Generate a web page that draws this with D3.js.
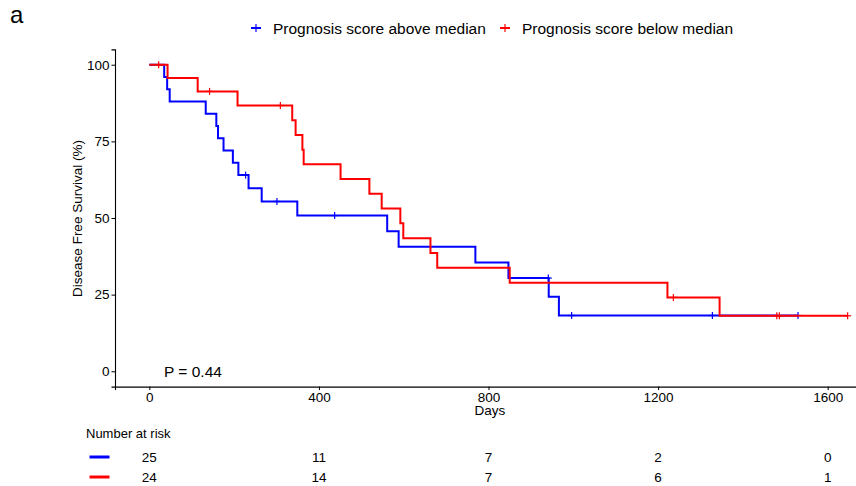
<!DOCTYPE html>
<html>
<head>
<meta charset="utf-8">
<script src="https://d3js.org/d3.v7.min.js"></script>
<style>
  body { margin: 0; background: white; }
  svg text { font-family: "Liberation Sans", Arial, Helvetica, sans-serif; fill: black; }
  .axis path, .axis line { stroke: black; }
</style>
</head>
<body>
<script>

// survival steps: [day, survival % after the step]
var aboveSteps = [[0,100],[35,96],[42,92],[48,88],[133,84],[158,80],[162,76],[175,72],[197,68],[210,64],
                  [234,59.7],[265,55.4],[349,50.8],[561,45.7],[588,40.6],[769,35.5],[847,30.4],[942,24.3],[966,18.2]]
var aboveEnd = 1530
var aboveCensor = [[227,64],[301,55.4],[437,50.8],[941,30.4],[996,18.2],[1328,18.2],[1530,18.2]]

var belowSteps = [[0,100],[43,95.7],[114,91.3],[208,86.7],[337,81.9],[345,77.1],[361,72.3],[364,67.5],[451,62.7],
                  [519,57.9],[548,53.1],[592,48.3],[599,43.4],[663,38.6],[679,33.8],[850,28.9],[1222,24.1],[1345,18.1]]
var belowEnd = 1647
var belowCensor = [[22,100],[142,91.3],[309,86.7],[1236,24.1],[1480,18.1],[1486,18.1],[1647,18.1]]

var xTicks = [0,400,800,1200,1600]
var yTicks = [0,25,50,75,100]

var riskTimes = [0,400,800,1200,1600]
var riskAbove = [25,11,7,2,0]
var riskBelow = [24,14,7,6,1]

var seriesNames = ["Prognosis score above median","Prognosis score below median"]
var seriesColors = ["#0000ff","#ff0000"]

var width = 856, height = 486

var svg = d3.select("body").append("svg")
    .attr("width", width)
    .attr("height", height)

var x = d3.scaleLinear().domain([-81, 1700]).range([115, 870.1])
var y = d3.scaleLinear().domain([-5, 105]).range([386.6, 49.4])

// axes
var xAxis = svg.append("g")
    .attr("class", "axis")
    .attr("transform", "translate(0," + y(-5) + ")")
    .call(d3.axisBottom(x).tickValues(xTicks).tickFormat(d3.format("d"))
          .tickSizeOuter(0).tickSize(3.5).tickPadding(2))
xAxis.select(".domain").attr("stroke-width", 1.1)
xAxis.selectAll("text").style("font-size", "13.5px").attr("fill", "black")

var yAxis = svg.append("g")
    .attr("class", "axis")
    .attr("transform", "translate(" + x(-81) + ",0)")
    .call(d3.axisLeft(y).tickValues(yTicks).tickSizeOuter(0).tickSize(3.5).tickPadding(2))
yAxis.select(".domain").attr("stroke-width", 1.1)
yAxis.selectAll("text").style("font-size", "13.5px").attr("fill", "black")

svg.append("text")
    .attr("x", 490).attr("y", 415)
    .attr("text-anchor", "middle")
    .style("font-size", "13.5px")
    .text("Days")

svg.append("text")
    .attr("transform", "translate(82,218.5) rotate(-90)")
    .attr("text-anchor", "middle")
    .style("font-size", "13.5px")
    .text("Disease Free Survival (%)")

// curves
var stepLine = d3.line()
    .x(function(d) { return x(d[0]) })
    .y(function(d) { return y(d[1]) })
    .curve(d3.curveStepAfter)

function drawCurve(steps, end, censor, color) {
  var pts = steps.concat([[end, steps[steps.length - 1][1]]])
  svg.append("path")
      .datum(pts)
      .attr("d", stepLine)
      .attr("fill", "none")
      .attr("stroke", color)
      .attr("stroke-width", 2)

  var g = svg.append("g")
  g.selectAll(".cv")
      .data(censor)
      .enter().append("line")
      .attr("x1", function(d) { return x(d[0]) })
      .attr("x2", function(d) { return x(d[0]) })
      .attr("y1", function(d) { return y(d[1]) - 3.5 })
      .attr("y2", function(d) { return y(d[1]) + 3.5 })
      .attr("stroke", color).attr("stroke-width", 1.2)
  g.selectAll(".ch")
      .data(censor)
      .enter().append("line")
      .attr("x1", function(d) { return x(d[0]) - 3.5 })
      .attr("x2", function(d) { return x(d[0]) + 3.5 })
      .attr("y1", function(d) { return y(d[1]) })
      .attr("y2", function(d) { return y(d[1]) })
      .attr("stroke", color).attr("stroke-width", 1.2)
}

drawCurve(aboveSteps, aboveEnd, aboveCensor, seriesColors[0])
drawCurve(belowSteps, belowEnd, belowCensor, seriesColors[1])

svg.append("text")
    .attr("x", 164).attr("y", 377)
    .style("font-size", "15.5px")
    .text("P = 0.44")

// panel tag
svg.append("text")
    .attr("x", 10).attr("y", 23)
    .style("font-size", "24px")
    .text("a")

// legend
var legendX = [256, 505]
seriesNames.forEach(function(name, i) {
  var lg = svg.append("g").attr("transform", "translate(" + legendX[i] + ",28)")
  lg.append("line").attr("x1", -5).attr("x2", 5).attr("y1", 0).attr("y2", 0)
      .attr("stroke", seriesColors[i]).attr("stroke-width", 2)
  lg.append("line").attr("x1", 0).attr("x2", 0).attr("y1", -4).attr("y2", 4)
      .attr("stroke", seriesColors[i]).attr("stroke-width", 1.2)
  lg.append("text")
      .attr("x", 17).attr("y", 5.5)
      .style("font-size", "15.5px")
      .text(name)
})

// risk table
svg.append("text")
    .attr("x", 86).attr("y", 438)
    .style("font-size", "13px")
    .text("Number at risk")

var riskRows = [riskAbove, riskBelow]
var rowY = [457, 477]
riskRows.forEach(function(row, i) {
  svg.append("line")
      .attr("x1", 89.5).attr("x2", 109.5)
      .attr("y1", rowY[i]).attr("y2", rowY[i])
      .attr("stroke", seriesColors[i]).attr("stroke-width", 3)
  svg.selectAll(".risk" + i)
      .data(row)
      .enter().append("text")
      .attr("x", function(d, j) { return x(riskTimes[j]) })
      .attr("y", rowY[i] + 5)
      .attr("text-anchor", "middle")
      .style("font-size", "13.5px")
      .text(function(d) { return d })
})

</script>
</body>
</html>
